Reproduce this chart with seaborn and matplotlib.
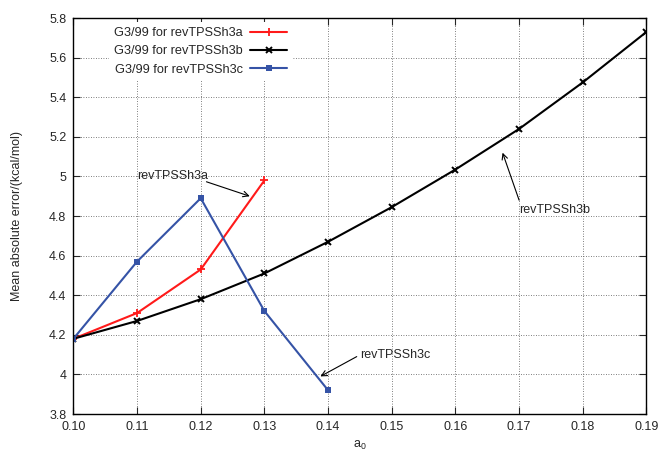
import numpy as np
import pandas as pd
import matplotlib
matplotlib.use("Agg")
import matplotlib.pyplot as plt
import seaborn as sns

# values
a0_b = [0.10, 0.11, 0.12, 0.13, 0.14, 0.15, 0.16, 0.17, 0.18, 0.19]
mae_b = [4.18, 4.27, 4.38, 4.51, 4.67, 4.845, 5.035, 5.24, 5.475, 5.73]
a0_a = [0.10, 0.11, 0.12, 0.13]
mae_a = [4.18, 4.31, 4.53, 4.98]
a0_c = [0.10, 0.11, 0.12, 0.13, 0.14]
mae_c = [4.18, 4.57, 4.89, 4.32, 3.92]

x_ticks = [0.10, 0.11, 0.12, 0.13, 0.14, 0.15, 0.16, 0.17, 0.18, 0.19]
y_ticks = [3.8, 4.0, 4.2, 4.4, 4.6, 4.8, 5.0, 5.2, 5.4, 5.6, 5.8]
y_labels = ["3.8", "4", "4.2", "4.4", "4.6", "4.8", "5", "5.2", "5.4", "5.6", "5.8"]

sns.set_style("ticks")
plt.rcParams['font.family'] = ['Liberation Sans', 'DejaVu Sans']
plt.rcParams['mathtext.default'] = 'regular'

fig = plt.figure(figsize=(6.61, 4.51), dpi=100)
ax = fig.add_axes([0.111, 0.082, 0.867, 0.878])

df_a = pd.DataFrame({"a0": a0_a, "mae": mae_a})
df_b = pd.DataFrame({"a0": a0_b, "mae": mae_b})
df_c = pd.DataFrame({"a0": a0_c, "mae": mae_c})

sns.lineplot(data=df_a, x="a0", y="mae", ax=ax, color="#ff1a1a", lw=1.5,
             marker="+", markersize=6, markeredgewidth=1.3, markeredgecolor="#ff1a1a",
             label="G3/99 for revTPSSh3a")
sns.lineplot(data=df_b, x="a0", y="mae", ax=ax, color="black", lw=1.5,
             marker="x", markersize=5, markeredgewidth=1.4, markeredgecolor="black",
             label="G3/99 for revTPSSh3b")
sns.lineplot(data=df_c, x="a0", y="mae", ax=ax, color="#3553a6", lw=1.5,
             marker="s", markersize=4, markeredgewidth=0, markerfacecolor="#3553a6",
             label="G3/99 for revTPSSh3c")

ax.set_xlim(0.10, 0.19)
ax.set_ylim(3.8, 5.8)
ax.set_xticks(x_ticks)
ax.set_xticklabels([f"{v:.2f}" for v in x_ticks])
ax.set_yticks(y_ticks)
ax.set_yticklabels(y_labels)
ax.tick_params(direction="in", top=True, right=True, length=5, width=0.8,
               labelsize=9, pad=5)
ax.grid(True, linestyle=(0, (1, 2)), color="#555555", lw=0.6)
for s in ax.spines.values():
    s.set_linewidth(1.0)
    s.set_color("black")

ax.set_xlabel("a$_0$", fontsize=9, labelpad=4)
ax.set_ylabel("Mean absolute error/(kcal/mol)", fontsize=9, labelpad=19)

leg = ax.legend(loc="upper right", bbox_to_anchor=(0.389, 1.0), markerfirst=False,
                frameon=True, fontsize=9.2, handlelength=2.9, handletextpad=0.6,
                labelspacing=0.5, borderaxespad=0.3, fancybox=False)
leg.get_frame().set_facecolor("white")
leg.get_frame().set_edgecolor("none")
leg.get_frame().set_alpha(1.0)
for t in leg.get_texts():
    t.set_ha("right")

arrow = dict(arrowstyle="->", lw=0.8, color="black", shrinkA=0, shrinkB=0)
ax.annotate("revTPSSh3a", xy=(0.1277, 4.90), xytext=(0.110, 5.0),
            fontsize=9, va="center", ha="left")
ax.annotate("", xy=(0.1277, 4.90), xytext=(0.1209, 4.973), arrowprops=arrow)
ax.annotate("revTPSSh3b", xy=(0.1674, 5.12), xytext=(0.170, 4.83),
            fontsize=9, va="center", ha="left")
ax.annotate("", xy=(0.1674, 5.12), xytext=(0.170, 4.88), arrowprops=arrow)
ax.annotate("revTPSSh3c", xy=(0.1388, 3.99), xytext=(0.145, 4.10),
            fontsize=9, va="center", ha="left")
ax.annotate("", xy=(0.1388, 3.99), xytext=(0.1445, 4.09), arrowprops=arrow)

fig.savefig("out.png", dpi=100)
